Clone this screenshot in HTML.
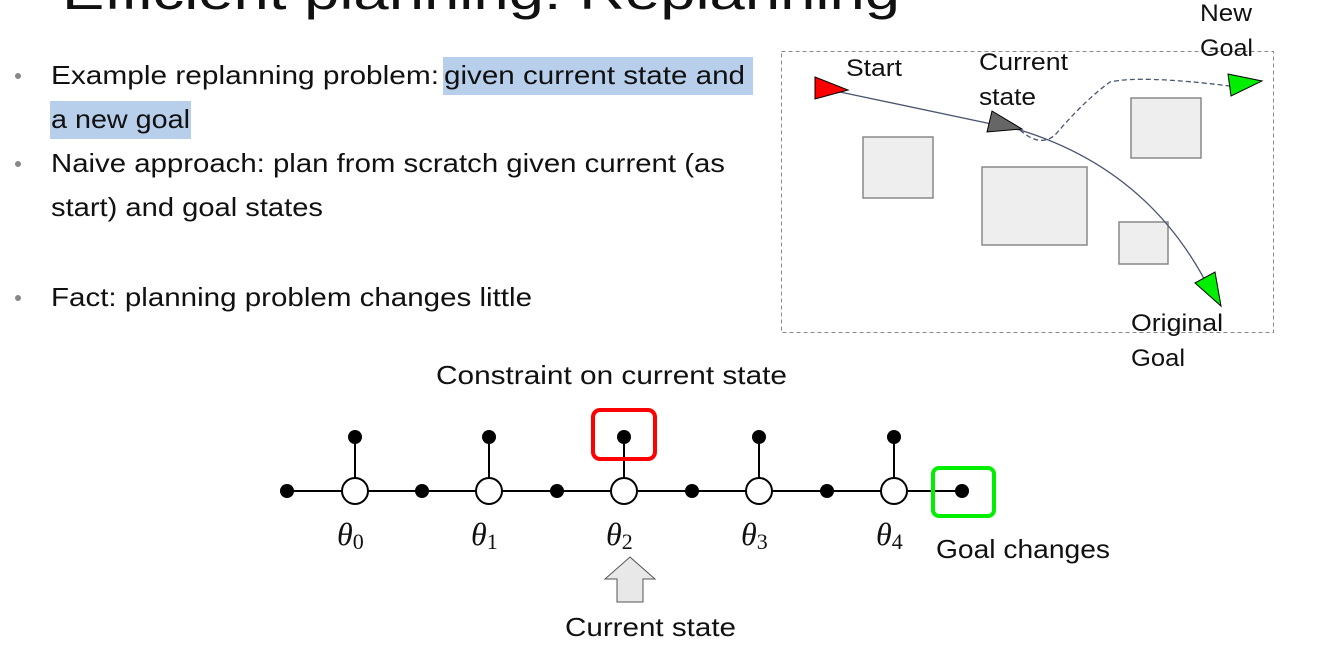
<!DOCTYPE html>
<html><head><meta charset="utf-8"><style>
html,body{margin:0;padding:0;background:#fff;}
body{width:1321px;height:652px;overflow:hidden;position:relative;font-family:"Liberation Sans",sans-serif;}
</style></head><body>
<svg width="1321" height="652" viewBox="0 0 1321 652" xmlns="http://www.w3.org/2000/svg" style="position:absolute;left:0;top:0">
<text x="62" y="9" font-family="Liberation Sans,sans-serif" font-size="50" fill="#111" textLength="838" lengthAdjust="spacingAndGlyphs">Efficient planning: Replanning</text>
<rect x="443" y="57" width="310" height="38" fill="#b8cfec"/>
<rect x="50" y="101" width="141" height="38" fill="#b8cfec"/>
<g fill="#888"><circle cx="18" cy="76" r="3"/><circle cx="18" cy="164" r="3"/><circle cx="18" cy="298" r="3"/></g>
<g font-family="Liberation Sans,sans-serif" font-size="26" fill="#111" lengthAdjust="spacingAndGlyphs">
<text x="51" y="84" textLength="388" lengthAdjust="spacingAndGlyphs">Example replanning problem:</text>
<text x="444" y="84" textLength="301" lengthAdjust="spacingAndGlyphs">given current state and</text>
<text x="51" y="128" textLength="139" lengthAdjust="spacingAndGlyphs">a new goal</text>
<text x="51" y="172" textLength="674" lengthAdjust="spacingAndGlyphs">Naive approach: plan from scratch given current (as</text>
<text x="51" y="216" textLength="272" lengthAdjust="spacingAndGlyphs">start) and goal states</text>
<text x="51" y="306" textLength="481" lengthAdjust="spacingAndGlyphs">Fact: planning problem changes little</text>
</g>
<!-- map -->
<rect x="781.5" y="51.5" width="492" height="281" fill="none" stroke="#888" stroke-dasharray="4,3"/>
<g fill="#eee" stroke="#888" stroke-width="1.5">
<rect x="863" y="137" width="70" height="61"/>
<rect x="982" y="167" width="105" height="78"/>
<rect x="1131" y="98" width="70" height="60"/>
<rect x="1119" y="222" width="49" height="42"/>
</g>
<path d="M840 92 L1020 130 Q1150 170 1210 290" fill="none" stroke="#4a5570" stroke-width="1.3"/>
<path d="M1020 130 Q1040 148 1055 135 Q1085 100 1110 82 Q1140 75 1230 86" fill="none" stroke="#4a5570" stroke-width="1.3" stroke-dasharray="5,3"/>
<polygon points="815,77 848,90 815,99" fill="#f00" stroke="#000"/>
<polygon points="992,111 1022,129 987,132" fill="#666" stroke="#000"/>
<polygon points="1228,74 1262,81 1231,96" fill="#0e0" stroke="#000"/>
<polygon points="1195,283 1215,272 1221,306" fill="#0e0" stroke="#000"/>
<g font-family="Liberation Sans,sans-serif" font-size="24" fill="#111">
<text x="846" y="76" textLength="56" lengthAdjust="spacingAndGlyphs">Start</text>
<text x="979" y="70" textLength="89" lengthAdjust="spacingAndGlyphs">Current</text>
<text x="979" y="105" textLength="57" lengthAdjust="spacingAndGlyphs">state</text>
<text x="1200" y="21" textLength="52" lengthAdjust="spacingAndGlyphs">New</text>
<text x="1200" y="56" textLength="53" lengthAdjust="spacingAndGlyphs">Goal</text>
<text x="1131" y="331" textLength="92" lengthAdjust="spacingAndGlyphs">Original</text>
<text x="1131" y="366" textLength="54" lengthAdjust="spacingAndGlyphs">Goal</text>
<text x="436" y="384" font-size="26" textLength="351" lengthAdjust="spacingAndGlyphs">Constraint on current state</text>
<text x="936" y="558" font-size="26" textLength="174" lengthAdjust="spacingAndGlyphs">Goal changes</text>
<text x="565" y="636" font-size="26" textLength="171" lengthAdjust="spacingAndGlyphs">Current state</text>
</g>
<!-- factor graph -->
<line x1="287" y1="491" x2="962" y2="491" stroke="#000" stroke-width="2"/>
<g stroke="#000" stroke-width="2">
<line x1="355" y1="437" x2="355" y2="491"/><line x1="489" y1="437" x2="489" y2="491"/><line x1="624" y1="437" x2="624" y2="491"/><line x1="759" y1="437" x2="759" y2="491"/><line x1="894" y1="437" x2="894" y2="491"/>
</g>
<g fill="#000">
<circle cx="287" cy="491" r="7"/><circle cx="422" cy="491" r="7"/><circle cx="557" cy="491" r="7"/><circle cx="692" cy="491" r="7"/><circle cx="827" cy="491" r="7"/><circle cx="962" cy="491" r="7"/>
<circle cx="355" cy="437" r="7"/><circle cx="489" cy="437" r="7"/><circle cx="624" cy="437" r="7"/><circle cx="759" cy="437" r="7"/><circle cx="894" cy="437" r="7"/>
</g>
<g fill="#fff" stroke="#000" stroke-width="2">
<circle cx="355" cy="491" r="13"/><circle cx="489" cy="491" r="13"/><circle cx="624" cy="491" r="13"/><circle cx="759" cy="491" r="13"/><circle cx="894" cy="491" r="13"/>
</g>
<rect x="593" y="410" width="62" height="49" rx="7" fill="none" stroke="#f00" stroke-width="4"/>
<rect x="933" y="468" width="61" height="48" rx="6" fill="none" stroke="#0e0" stroke-width="4"/>
<g font-family="Liberation Serif,serif" font-style="italic" font-size="32" fill="#111">
<text x="337" y="545">θ<tspan font-style="normal" font-size="22" dy="4">0</tspan></text>
<text x="471" y="545">θ<tspan font-style="normal" font-size="22" dy="4">1</tspan></text>
<text x="606" y="545">θ<tspan font-style="normal" font-size="22" dy="4">2</tspan></text>
<text x="741" y="545">θ<tspan font-style="normal" font-size="22" dy="4">3</tspan></text>
<text x="876" y="545">θ<tspan font-style="normal" font-size="22" dy="4">4</tspan></text>
</g>
<polygon points="630,557 655,579 643,579 643,602 617,602 617,579 605,579" fill="#e8e8e8" stroke="#555" stroke-width="1"/>
</svg>
</body></html>
